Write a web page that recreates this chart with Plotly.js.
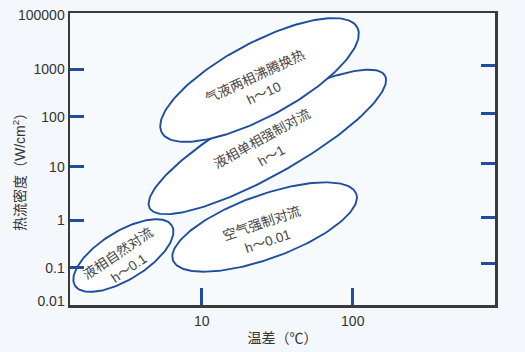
<!DOCTYPE html>
<html>
<head>
<meta charset="utf-8">
<script src="https://cdn.plot.ly/plotly-3.0.1.min.js"></script>
<style>
  html, body { margin: 0; padding: 0; background: #f4f8fc; }
  #chart { width: 525px; height: 352px; }
</style>
</head>
<body>
<div id="chart"></div>
<script>
// ---- axis data ----
const xTickVals = [10, 100];
const xTickText = ['10', '100'];
const yTickFlux = [0.01, 0.1, 1, 10, 100, 1000, 100000];
const yTickText = ['0.01', '0.1', '1', '10', '100', '1000', '100000'];
const yTickPos = [3.5, 37.3, 85, 138.3, 188.3, 236, 290];      // schematic (non-uniform) axis positions
const leftTickPos = [37.3, 85, 138.3, 188.3, 236];
const rightTickPos = [41.3, 88, 141.3, 192, 239.3];

// ---- region data (drawn order: bottom first) ----
const regionNames = ['液相自然对流', '空气强制对流', '液相单相强制对流', '气液两相沸腾换热'];
const regionH = ['h～0.1', 'h～0.01', 'h～1', 'h～10'];
const regionDT = [3.03, 26.1, 27.2, 24.15];      // centre temperature difference (°C)
const regionQ = [0.180, 0.713, 31.3, 588];       // centre heat flux (W/cm2)
const regionMajor = [57, 97.5, 135, 111];         // half-length along tilt
const regionMinor = [24, 31.8, 33, 37];           // half-width
const regionTilt = [31.8, 19.9, 29.4, 28.3];      // degrees
const labelTilt = [34, 18.5, 29, 25];

// ---- layout constants ----
const W = 525, H = 352;
const M = {l: 70, r: 30, t: 13, b: 47};
const xRange = [0.128, 2.942];
const yRange = [0, 292];
const plotW = W - M.l - M.r, plotH = H - M.t - M.b;
const pxPerDecade = plotW / (xRange[1] - xRange[0]);
const yUnitsPerPx = (yRange[1] - yRange[0]) / plotH;
const lineGap = 19;

// map heat flux to schematic axis position (piecewise log interpolation)
function fluxToPos(q) {
  const lq = Math.log10(q);
  for (let i = 0; i < yTickFlux.length - 1; i++) {
    const a = Math.log10(yTickFlux[i]), b = Math.log10(yTickFlux[i + 1]);
    if (lq >= a && lq <= b) {
      return yTickPos[i] + (lq - a) / (b - a) * (yTickPos[i + 1] - yTickPos[i]);
    }
  }
  return yTickPos[0];
}

const blue = '#1f4e9e';
const labelFont = {family: 'Arial, "Liberation Sans", "Noto Sans CJK SC", sans-serif', size: 13.5, color: '#444'};
const traces = [];
const annotations = [];
for (let k = 0; k < regionNames.length; k++) {
  const uc = Math.log10(regionDT[k]);
  const vc = fluxToPos(regionQ[k]);
  const th = regionTilt[k] * Math.PI / 180;
  const a = regionMajor[k], b = regionMinor[k];
  const xs = [], ys = [];
  for (let i = 0; i <= 180; i++) {
    const t = 2 * Math.PI * i / 180;
    const dx = a * Math.cos(t) * Math.cos(th) - b * Math.sin(t) * Math.sin(th);
    const dy = a * Math.cos(t) * Math.sin(th) + b * Math.sin(t) * Math.cos(th);
    xs.push(Math.pow(10, uc + dx / pxPerDecade));
    ys.push(vc + dy * yUnitsPerPx);
  }
  traces.push({
    type: 'scatter', mode: 'lines', x: xs, y: ys,
    fill: 'toself', fillcolor: '#ffffff',
    line: {color: blue, width: 1.9},
    hoverinfo: 'skip', showlegend: false, name: regionNames[k]
  });
  const al = labelTilt[k] * Math.PI / 180;
  const lines = [regionNames[k], regionH[k]];
  lines.forEach(function (txt, j) {
    const s = (j === 0 ? -1 : 1) * lineGap / 2;
    annotations.push({
      x: uc, y: vc, xref: 'x', yref: 'y',
      text: txt, showarrow: false, textangle: -labelTilt[k],
      xshift: s * Math.sin(al), yshift: -5 - s * Math.cos(al),
      font: labelFont
    });
  });
}
// empty traces so the tick-only axes exist
traces.push({type: 'scatter', x: [], y: [], yaxis: 'y2', showlegend: false, hoverinfo: 'skip'});
traces.push({type: 'scatter', x: [], y: [], yaxis: 'y3', showlegend: false, hoverinfo: 'skip'});

const font = {family: 'Arial, "Liberation Sans", "Noto Sans CJK SC", sans-serif', size: 14, color: '#333'};
const frame = '#3a3a3a';

// y-axis title as a rotated label, placed where the reference shows it
annotations.push({
  xref: 'paper', yref: 'paper', x: (18.5 - M.l) / plotW, y: (H - M.b - 168.5) / plotH,
  xanchor: 'center', yanchor: 'middle', textangle: -90, showarrow: false,
  text: '热流密度（W/cm<sup>2</sup>）', font: font
});

const layout = {
  width: W, height: H,
  margin: M,
  paper_bgcolor: '#f4f8fc',
  plot_bgcolor: '#f6fafd',
  font: font,
  showlegend: false,
  xaxis: {
    type: 'log', range: xRange,
    tickmode: 'array', tickvals: xTickVals, ticktext: xTickText,
    ticks: 'inside', ticklen: 17, tickwidth: 3, tickcolor: blue,
    showline: true, linecolor: frame, linewidth: 2.5, mirror: true,
    showgrid: false, zeroline: false,
    tickfont: font, ticklabelstandoff: 2,
    title: {text: '温差（℃）', font: font, standoff: 5}
  },
  yaxis: {
    range: yRange,
    tickmode: 'array', tickvals: yTickPos, ticktext: yTickText,
    ticks: '', showline: true, linecolor: frame, linewidth: 2.5, mirror: true,
    showgrid: false, zeroline: false,
    tickfont: font
  },
  yaxis2: {
    overlaying: 'y', side: 'left', range: yRange,
    tickmode: 'array', tickvals: leftTickPos,
    ticks: 'inside', ticklen: 14, tickwidth: 3, tickcolor: blue,
    showticklabels: false, showline: false, showgrid: false, zeroline: false
  },
  yaxis3: {
    overlaying: 'y', side: 'right', range: yRange,
    tickmode: 'array', tickvals: rightTickPos,
    ticks: 'inside', ticklen: 14, tickwidth: 3, tickcolor: blue,
    showticklabels: false, showline: false, showgrid: false, zeroline: false
  },
  annotations: annotations
};

Plotly.newPlot('chart', traces, layout, {displayModeBar: false, staticPlot: true});
</script>
</body>
</html>
